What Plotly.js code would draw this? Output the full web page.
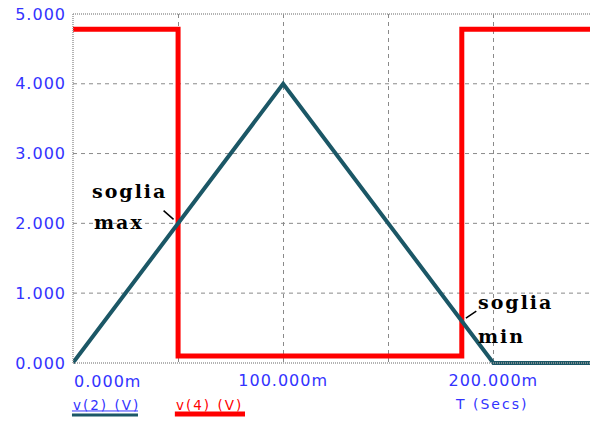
<!DOCTYPE html>
<html>
<head>
<meta charset="utf-8">
<script src="https://cdn.plot.ly/plotly-3.0.1.min.js"></script>
<style>
  html, body { margin: 0; padding: 0; background: #ffffff; }
  #chart { width: 590px; height: 423px; }
  .xtick text, .ytick text { letter-spacing: 1px; }
  .annotation-text { letter-spacing: 2px; }
  .annotation-text[style*="font-size: 16px"] { letter-spacing: 1px; }
</style>
</head>
<body>
<div id="chart"></div>
<script>
// ---- data (time in ms, voltages in V) ----
const timeV2 = [0, 100, 200, 246];
const valuesV2 = [0, 4.0, 0, 0];
const timeV4 = [0, 50, 50, 185, 185, 246];
const valuesV4 = [4.78, 4.78, 0.1, 0.1, 4.78, 4.78];

const xTickVals = [50, 100, 150, 200];
const xTickText = ['', '100.000m', '', '200.000m'];
const xFirstTickVal = 0;
const xFirstTickText = '0.000m';
const yTickVals = [0, 1, 2, 3, 4, 5];
const yTickText = ['0.000', '1.000', '2.000', '3.000', '4.000', '5.000'];

const seriesNames = ['v(2) (V)', 'v(4) (V)'];
const xAxisLabel = 'T (Secs)';
const thresholdMax = {t: 50, v: 2.0, label: ['soglia', 'max']};
const thresholdMin = {t: 185, v: 0.6, label: ['soglia', 'min']};

const TEAL = '#1b5766';
const RED = '#ff0000';
const BLUE = '#3333ff';
const GRID = '#8a8a8a';
const BORDER = '#9a9a9a';

const traces = [
  {x: timeV4, y: valuesV4, name: seriesNames[1], type: 'scatter', mode: 'lines',
   line: {color: RED, width: 5}, showlegend: false, hoverinfo: 'skip'},
  {x: timeV2, y: valuesV2, name: seriesNames[0], type: 'scatter', mode: 'lines',
   line: {color: TEAL, width: 4}, showlegend: false, hoverinfo: 'skip'}
];

const tickFont = {family: 'DejaVu Sans, sans-serif', size: 16, color: BLUE};
const serifFont = {family: 'DejaVu Serif, Liberation Serif, serif', size: 19, color: '#000000'};
const sansFont = {family: 'DejaVu Sans, sans-serif', size: 13.5, color: BLUE};

// horizontal dashed grid at the inner y ticks (placed through the y scale)
const yGridShapes = yTickVals.slice(1, -1).map(v => ({
  type: 'line', layer: 'below', xref: 'paper', yref: 'y', x0: 0, x1: 1, y0: v, y1: v,
  line: {color: GRID, width: 1, dash: '4px,4px'}
}));

const layout = {
  width: 590, height: 423,
  margin: {l: 73, r: 0, t: 14, b: 58, pad: 0},
  paper_bgcolor: '#ffffff', plot_bgcolor: '#ffffff',
  showlegend: false,
  xaxis: {
    range: [0, 246], tickvals: xTickVals, ticktext: xTickText,
    showgrid: true, gridcolor: GRID, gridwidth: 1, griddash: '4px,4px',
    zeroline: false, showline: false, ticks: '',
    tickfont: tickFont, ticklabelstandoff: 4
  },
  yaxis: {
    range: [-0.03, 5], tickvals: yTickVals, ticktext: yTickText,
    showgrid: false, zeroline: false, showline: false, ticks: '',
    tickfont: tickFont, ticklabelstandoff: 6
  },
  shapes: yGridShapes.concat([
    // plot frame (dotted)
    {type: 'line', xref: 'paper', yref: 'paper', x0: 0, x1: 1, y0: 1, y1: 1,
     line: {color: BORDER, width: 1.5, dash: '1px,1px'}},
    {type: 'line', xref: 'paper', yref: 'y', x0: 0, x1: 0, y0: 0, y1: 5,
     line: {color: BORDER, width: 1.5, dash: '1px,1px'}},
    {type: 'line', xref: 'paper', yref: 'y', x0: 0, x1: 1, y0: 0, y1: 0,
     line: {color: BORDER, width: 1.5, dash: '1px,1px'}},
    // legend keys under the labels
    {type: 'line', xref: 'paper', yref: 'paper', x0: -0.002, x1: 0.1257, y0: -0.131, y1: -0.131,
     line: {color: BLUE, width: 1}},
    {type: 'line', xref: 'paper', yref: 'paper', x0: -0.002, x1: 0.1257, y0: -0.1426, y1: -0.1426,
     line: {color: TEAL, width: 3}},
    {type: 'line', xref: 'paper', yref: 'paper', x0: 0.197, x1: 0.3327, y0: -0.1397, y1: -0.1397,
     line: {color: RED, width: 5}}
  ]),
  annotations: [
    // first x tick label, left-aligned at t = 0 like the original
    {text: xFirstTickText, xref: 'x', yref: 'paper', x: xFirstTickVal, y: -0.016,
     xanchor: 'left', yanchor: 'top', showarrow: false, font: tickFont, borderpad: 0},
    {text: '<b>' + thresholdMax.label[0] + '</b>', xref: 'x', yref: 'y', x: 8.5, y: 2.47,
     xanchor: 'left', yanchor: 'middle', showarrow: false, font: serifFont, borderpad: 0},
    {text: '<b>' + thresholdMax.label[1] + '</b>', xref: 'x', yref: 'y', x: 9.5, y: 2.02,
     xanchor: 'left', yanchor: 'middle', showarrow: false, font: serifFont, borderpad: 0},
    {text: '<b>' + thresholdMin.label[0] + '</b>', xref: 'x', yref: 'y', x: 192, y: 0.877,
     xanchor: 'left', yanchor: 'middle', showarrow: false, font: serifFont, borderpad: 0},
    {text: '<b>' + thresholdMin.label[1] + '</b>', xref: 'x', yref: 'y', x: 192, y: 0.39,
     xanchor: 'left', yanchor: 'middle', showarrow: false, font: serifFont, borderpad: 0},
    {text: '', xref: 'x', yref: 'y', x: thresholdMax.t, y: thresholdMax.v,
     showarrow: true, arrowhead: 0, arrowwidth: 1.5, arrowcolor: '#000000',
     ax: -16, ay: -14, standoff: 6},
    {text: '', xref: 'x', yref: 'y', x: thresholdMin.t, y: thresholdMin.v,
     showarrow: true, arrowhead: 0, arrowwidth: 1.5, arrowcolor: '#000000',
     ax: 16, ay: -11, standoff: 5},
    {text: seriesNames[0], xref: 'paper', yref: 'paper', x: -0.002, y: -0.1127,
     xanchor: 'left', yanchor: 'middle', showarrow: false, font: sansFont, borderpad: 0},
    {text: seriesNames[1], xref: 'paper', yref: 'paper', x: 0.197, y: -0.1127,
     xanchor: 'left', yanchor: 'middle', showarrow: false,
     font: Object.assign({}, sansFont, {color: RED}), borderpad: 0},
    {text: xAxisLabel, xref: 'paper', yref: 'paper', x: 0.737, y: -0.111,
     xanchor: 'left', yanchor: 'middle', showarrow: false,
     font: Object.assign({}, sansFont, {size: 14}), borderpad: 0}
  ]
};

Plotly.newPlot('chart', traces, layout, {staticPlot: true, displayModeBar: false});
</script>
</body>
</html>
